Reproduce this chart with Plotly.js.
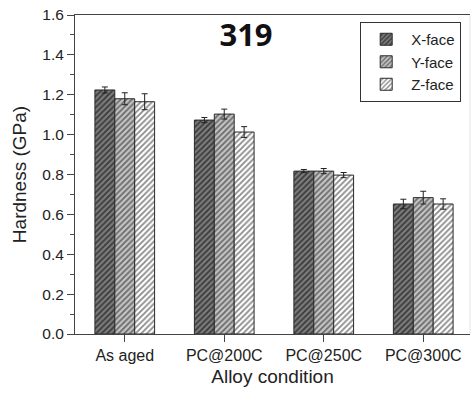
<!DOCTYPE html>
<html>
<head>
<meta charset="utf-8">
<script src="https://cdn.plot.ly/plotly-3.0.1.min.js"></script>
<style>html,body{margin:0;padding:0;background:#fff;}#chart{width:471px;height:395px;}</style>
</head>
<body>
<div id="chart"></div>
<script>
const categories = ["As aged", "PC@200C", "PC@250C", "PC@300C"];
const seriesNames = ["X-face", "Y-face", "Z-face"];
const xFace = [1.224, 1.073, 0.817, 0.652];
const yFace = [1.180, 1.103, 0.817, 0.684];
const zFace = [1.165, 1.013, 0.797, 0.652];
const xErr = [0.015, 0.013, 0.008, 0.024];
const yErr = [0.030, 0.025, 0.013, 0.032];
const zErr = [0.040, 0.027, 0.013, 0.026];

const styles = [
  {bg: "#7c7c7c", fg: "#3a3a3a"},
  {bg: "#c4c4c4", fg: "#6a6a6a"},
  {bg: "#ffffff", fg: "#8a8a8a"}
];
const values = [xFace, yFace, zFace];
const errs = [xErr, yErr, zErr];

const traces = values.map((v, i) => ({
  type: "bar",
  name: seriesNames[i],
  x: categories,
  y: v,
  error_y: {type: "data", array: errs[i], visible: true, color: "#222", thickness: 1, width: 3},
  marker: {
    color: styles[i].bg,
    line: {color: "#2a2a2a", width: 1},
    pattern: {shape: "/", bgcolor: styles[i].bg, fgcolor: styles[i].fg, size: 4, solidity: 0.45, fillmode: "replace"}
  }
}));

const font = "Liberation Sans, Arial, sans-serif";
const layout = {
  width: 471, height: 395,
  margin: {l: 75, r: 1, t: 15, b: 61},
  paper_bgcolor: "#fff", plot_bgcolor: "#fff",
  barmode: "group", bargap: 0.4, bargroupgap: 0,
  showlegend: true,
  font: {family: font, color: "#222"},
  title: {text: "<b>319</b>", x: 246/471, xanchor: "center", y: 1 - 35/395, yanchor: "middle",
          font: {family: "Open Sans, sans-serif", size: 31, color: "#111"}},
  legend: {x: 0.722, xanchor: "left", y: 0.978, yanchor: "top",
           bordercolor: "#333", borderwidth: 1, bgcolor: "#fff", itemwidth: 40,
           font: {family: font, size: 15, color: "#222"}, tracegroupgap: 0},
  xaxis: {
    type: "category", range: [-0.5, 3.47],
    showline: true, linecolor: "#444", linewidth: 1, mirror: true,
    ticks: "outside", ticklen: 7, tickcolor: "#444",
    tickfont: {family: font, size: 16, color: "#222"},
    title: {text: "Alloy condition", font: {family: font, size: 19, color: "#222"}, standoff: 6},
    showgrid: false, zeroline: false
  },
  yaxis: {
    range: [0, 1.6], dtick: 0.2, tickformat: ".1f",
    showline: true, linecolor: "#444", linewidth: 1,
    ticks: "outside", ticklen: 7, tickcolor: "#444",
    minor: {dtick: 0.1, ticks: "outside", ticklen: 4, tickcolor: "#444"},
    tickfont: {family: font, size: 15.5, color: "#222"},
    title: {text: "Hardness (GPa)", font: {family: font, size: 19, color: "#222"}, standoff: 10},
    showgrid: false, zeroline: false
  },
  shapes: [{type: "line", xref: "paper", yref: "paper", x0: 1, x1: 1, y0: 0, y1: 1, line: {color: "#e4e4e4", width: 1}}]
};

Plotly.newPlot("chart", traces, layout, {displayModeBar: false, staticPlot: true});
</script>
</body>
</html>
